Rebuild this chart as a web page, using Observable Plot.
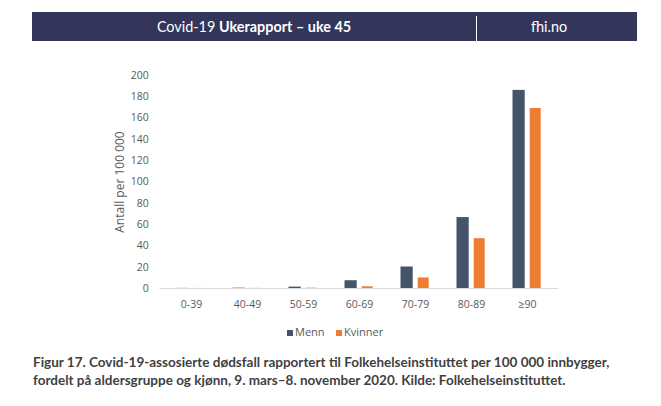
<!DOCTYPE html>
<html><head><meta charset="utf-8">
<script src="https://cdn.jsdelivr.net/npm/d3@7"></script>
<script src="https://cdn.jsdelivr.net/npm/@observablehq/plot@0.6"></script>
<style>
body{margin:0;background:#fff;}
#page{position:relative;width:661px;height:406px;overflow:hidden;font-family:"Open Sans",sans-serif;background:#fff;}
#hdr{position:absolute;left:32px;top:12px;width:605px;height:29px;background:#33365a;color:#fff;font-family:Lato,"Open Sans",sans-serif;font-size:14.4px;}
#hdr .l{position:absolute;left:0;top:0;width:444px;height:29px;line-height:29px;text-align:center;}
#hdr .sep{position:absolute;left:444px;top:4px;width:1px;height:25px;background:#fff;}
#hdr .r{position:absolute;left:484px;top:0;width:66px;height:29px;line-height:29px;text-align:center;}
#chart{position:absolute;left:0;top:60px;}
#legend{position:absolute;top:323px;left:0;width:661px;height:18px;font-size:11px;color:#595959;}
#legend .it{position:absolute;top:0;height:18px;line-height:18px;white-space:nowrap;}
#legend .sw{display:inline-block;width:6px;height:6px;margin-right:2px;vertical-align:0px;}
#caption{position:absolute;left:33px;top:353px;font-family:Lato,"Open Sans",sans-serif;font-weight:bold;font-size:13.5px;line-height:18px;color:#3f3f3f;white-space:nowrap;}
</style></head>
<body>
<div id="page">
  <div id="hdr"><div class="l">Covid-19 <b>Ukerapport – uke 45</b></div><div class="sep"></div><div class="r">fhi.no</div></div>
  <div id="chart"></div>
  <div id="legend"></div>
  <div id="caption">Figur 17. Covid-19-assosierte dødsfall rapportert til Folkehelseinstituttet per 100 000 innbygger,<br>fordelt på aldersgruppe og kjønn, 9. mars–8. november 2020. Kilde: Folkehelseinstituttet.</div>
</div>
<script>
const ages = ["0-39","40-49","50-59","60-69","70-79","80-89","≥90"];
const menn = [0.1, 0.3, 1.3, 7.3, 20.2, 66.6, 186];
const kvinner = [0.05, 0.1, 0.3, 1.6, 9.9, 46.8, 169];
const series = ["Menn","Kvinner"];
const colors = ["#44546a","#ed7d31"];
const yTicks = [0,20,40,60,80,100,120,140,160,180,200];
const yTitle = "Antall per 100 000";

const rowsMenn = ages.map((a,i)=>({age:a, sex:"Menn", v:menn[i]}));
const rowsKvinner = ages.map((a,i)=>({age:a, sex:"Kvinner", v:kvinner[i]}));

const chart = Plot.plot({
  width: 661, height: 260,
  marginLeft: 159.3, marginRight: 103, marginTop: 15, marginBottom: 32,
  style: {fontFamily: "'Open Sans', sans-serif", fontSize: "10.5px", color: "#595959", background: "transparent", overflow: "visible"},
  x: {domain: ages, padding: 0, label: null, tickSize: 0, tickPadding: 12.5},
  y: {domain: [0, 200], ticks: yTicks, tickSize: 0, tickPadding: 11, label: null},
  color: {domain: series, range: colors},
  marks: [
    Plot.ruleY([0], {stroke: "#d9d9d9", strokeWidth: 1}),
    Plot.barY(rowsMenn, {x: "age", y: "v", fill: "sex", insetLeft: 13.5, insetRight: 30.3}),
    Plot.barY(rowsKvinner, {x: "age", y: "v", fill: "sex", insetLeft: 30.7, insetRight: 14.3}),
    Plot.text([yTitle], {frameAnchor: "left", textAnchor: "middle", dx: -39.3, rotate: -90, fill: "#595959", fontSize: 12})
  ]
});
document.getElementById("chart").appendChild(chart);

const legend = document.getElementById("legend");
const legendX = [287, 336];
series.forEach((s,i)=>{
  const it = document.createElement("div");
  it.className = "it";
  it.style.left = legendX[i] + "px";
  const sw = document.createElement("span");
  sw.className = "sw";
  sw.style.background = colors[i];
  it.appendChild(sw);
  it.appendChild(document.createTextNode(s));
  legend.appendChild(it);
});
</script>
</body></html>
